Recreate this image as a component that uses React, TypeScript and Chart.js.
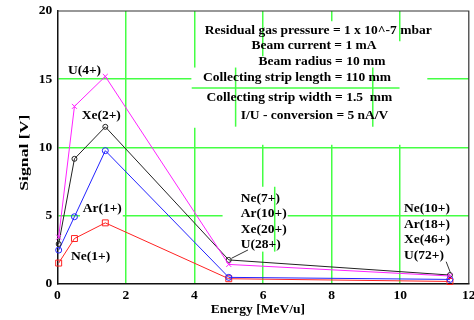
import React, { useEffect, useRef } from 'react';
import { Chart, registerables } from 'chart.js';

Chart.register(...registerables);

// ---- data ----
const energy = [0.04, 0.5, 1.4, 5.0, 11.45];
const signalU = [3.4, 13.0, 15.2, 1.4, 0.55];
const signalXe = [2.9, 9.15, 11.5, 1.73, 0.62];
const signalAr = [2.45, 4.9, 9.75, 0.45, 0.3];
const signalNe = [1.5, 3.3, 4.45, 0.35, 0.15];

const xTickValues = [0, 2, 4, 6, 8, 10, 12];
const yTickValues = [0, 5, 10, 15, 20];

const lowChargeLabels = ['U(4+)', 'Xe(2+)', 'Ar(1+)', 'Ne(1+)'];
const midChargeLabels = ['Ne(7+)', 'Ar(10+)', 'Xe(20+)', 'U(28+)'];
const highChargeLabels = ['Ne(10+)', 'Ar(18+)', 'Xe(46+)', 'U(72+)'];
const infoLines = [
  'Residual gas pressure = 1 x 10^-7 mbar',
  'Beam current = 1 mA',
  'Beam radius = 10 mm',
  'Collecting strip length = 110 mm',
  'Collecting strip width = 1.5  mm',
  'I/U - conversion = 5 nA/V',
];
const xTitle = 'Energy [MeV/u]';
const yTitle = 'Signal [V]';

// ---- styling / placement ----
const FONT = '"Liberation Serif", "Times New Roman", Times, serif';
const GREEN = '#44ff44';

const lowLabelPos = [
  [0.31, 15.6],
  [0.71, 12.3],
  [0.74, 5.53],
  [0.4, 1.97],
];
const midLabelX = 5.35;
const midLabelY = [6.26, 5.11, 3.93, 2.83];
const highLabelX = 10.11;
const highLabelY = [5.48, 4.3, 3.2, 2.04];
const infoPos = [
  [4.3, 18.59],
  [5.66, 17.49],
  [5.87, 16.26],
  [4.25, 15.09],
  [4.35, 13.62],
  [5.35, 12.34],
];
// gaps in the grid (white-out) : [x0,y0,x1,y1] in data units
const gridGaps = [
  [4, 11.43, 4, 15.85],
  [6, 10.18, 6, 16.68],
  [6, 2.34, 6, 7.1],
  [8, 10.18, 8, 19.25],
  [10, 10.18, 10, 17.78],
  [3.91, 15, 10.79, 15],
  [0.66, 5, 1.91, 5],
  [4.82, 5, 6.72, 5],
];
// displaced grid fragments visible in the original
const strayGrid = [
  [3.92, 14.35, 9.98, 14.35],
  [5.2, 11.51, 5.2, 15.85],
  [9.2, 11.51, 9.2, 15.85],
  [6.34, 2.34, 6.34, 7.1],
];
const leaders = [
  [5.56, 2.46, 5.08, 1.85],
  [11.34, 1.6, 11.47, 0.75],
];

const overlayPlugin = {
  id: 'overlay',
  beforeDatasetsDraw(chart: any) {
    const { ctx, chartArea: a, scales } = chart;
    const x = scales.x;
    const y = scales.y;
    ctx.save();
    ctx.lineCap = 'butt';
    ctx.strokeStyle = '#ffffff';
    ctx.lineWidth = 4;
    for (const g of gridGaps) {
      ctx.beginPath();
      ctx.moveTo(x.getPixelForValue(g[0]), y.getPixelForValue(g[1]));
      ctx.lineTo(x.getPixelForValue(g[2]), y.getPixelForValue(g[3]));
      ctx.stroke();
    }
    ctx.strokeStyle = GREEN;
    ctx.lineWidth = 1.5;
    for (const g of strayGrid) {
      ctx.beginPath();
      ctx.moveTo(x.getPixelForValue(g[0]), y.getPixelForValue(g[1]));
      ctx.lineTo(x.getPixelForValue(g[2]), y.getPixelForValue(g[3]));
      ctx.stroke();
    }
    ctx.strokeStyle = '#333333';
    ctx.lineWidth = 1.2;
    ctx.beginPath();
    ctx.moveTo(a.left, a.top);
    ctx.lineTo(a.right, a.top);
    ctx.lineTo(a.right, a.bottom);
    ctx.stroke();
    ctx.restore();
  },
  afterDatasetsDraw(chart: any) {
    const { ctx, chartArea: a, scales } = chart;
    const x = scales.x;
    const y = scales.y;
    ctx.save();
    ctx.fillStyle = '#000000';
    ctx.font = `bold 13.5px ${FONT}`;
    ctx.textAlign = 'left';
    ctx.textBaseline = 'middle';
    lowChargeLabels.forEach((t, i) => {
      ctx.fillText(t, x.getPixelForValue(lowLabelPos[i][0]), y.getPixelForValue(lowLabelPos[i][1]));
    });
    midChargeLabels.forEach((t, i) => {
      ctx.fillText(t, x.getPixelForValue(midLabelX), y.getPixelForValue(midLabelY[i]));
    });
    highChargeLabels.forEach((t, i) => {
      ctx.fillText(t, x.getPixelForValue(highLabelX), y.getPixelForValue(highLabelY[i]));
    });
    infoLines.forEach((t, i) => {
      ctx.fillText(t, x.getPixelForValue(infoPos[i][0]), y.getPixelForValue(infoPos[i][1]));
    });
    ctx.strokeStyle = '#333333';
    ctx.lineWidth = 1;
    for (const l of leaders) {
      ctx.beginPath();
      ctx.moveTo(x.getPixelForValue(l[0]), y.getPixelForValue(l[1]));
      ctx.lineTo(x.getPixelForValue(l[2]), y.getPixelForValue(l[3]));
      ctx.stroke();
    }
    // axis titles
    ctx.textAlign = 'center';
    ctx.fillText(xTitle, x.getPixelForValue(5.85), a.bottom + 26.5);
    ctx.save();
    ctx.translate(a.left - 32.3, y.getPixelForValue(9.6));
    ctx.rotate(-Math.PI / 2);
    const w = ctx.measureText(yTitle).width;
    ctx.scale(76 / w, 1);
    ctx.fillText(yTitle, 0, 0);
    ctx.restore();
    ctx.restore();
  },
};

function makeSet(label: string, values: number[], color: string, style: string, radius: number) {
  return {
    label,
    data: energy.map((e, i) => ({ x: e, y: values[i] })),
    borderColor: color,
    backgroundColor: color,
    borderWidth: 1,
    pointStyle: style,
    pointRadius: radius,
    pointBorderColor: color,
    pointBackgroundColor: 'rgba(0,0,0,0)',
    pointBorderWidth: 1,
    tension: 0,
    clip: false,
  };
}

export default function App() {
  const ref = useRef<HTMLCanvasElement>(null);
  useEffect(() => {
    if (!ref.current) return;
    const tickFont = { family: FONT, size: 13.5, weight: 'bold' as const };
    const chart = new Chart(ref.current, {
      type: 'line',
      data: {
        datasets: [
          makeSet('U', signalU, '#ff22ff', 'crossRot', 3.5),
          makeSet('Xe', signalXe, '#222222', 'circle', 2.5),
          makeSet('Ar', signalAr, '#2222ff', 'circle', 3),
          makeSet('Ne', signalNe, '#ff2222', 'rect', 4.2),
        ] as any,
      },
      options: {
        responsive: false,
        maintainAspectRatio: false,
        animation: false,
        devicePixelRatio: 1,
        layout: { padding: { top: 11, right: 4.5, left: 0, bottom: 0 } },
        plugins: { legend: { display: false }, tooltip: { enabled: false } },
        scales: {
          x: {
            type: 'linear',
            min: 0,
            max: 12,
            afterBuildTicks: (s: any) => {
              s.ticks = xTickValues.map((v) => ({ value: v }));
            },
            afterFit: (s: any) => {
              s.height = 36.5;
              s.paddingLeft = 0;
              s.paddingRight = 0;
            },
            grid: {
              drawTicks: false,
              lineWidth: 1.5,
              color: (c: any) =>
                c.tick && (c.tick.value === 0 || c.tick.value === 12) ? 'rgba(0,0,0,0)' : GREEN,
            },
            border: { color: '#111111', width: 1.5 },
            ticks: { font: tickFont, color: '#000000', padding: 4, maxRotation: 0, autoSkip: false },
          },
          y: {
            type: 'linear',
            min: 0,
            max: 20,
            afterBuildTicks: (s: any) => {
              s.ticks = yTickValues.map((v) => ({ value: v }));
            },
            afterFit: (s: any) => {
              s.width = 57.3;
              s.paddingTop = 0;
              s.paddingBottom = 0;
            },
            grid: {
              drawTicks: false,
              lineWidth: 1.5,
              color: (c: any) =>
                c.tick && (c.tick.value === 0 || c.tick.value === 20) ? 'rgba(0,0,0,0)' : GREEN,
            },
            border: { color: '#111111', width: 1.5 },
            ticks: { font: tickFont, color: '#000000', padding: 5 },
          },
        },
      },
      plugins: [overlayPlugin],
    });
    return () => chart.destroy();
  }, []);
  return (
    <div style={{ position: 'fixed', left: 0, top: 0, width: 474, height: 320, background: '#fff' }}>
      <canvas ref={ref} width={474} height={320} style={{ width: 474, height: 320, display: 'block' }} />
    </div>
  );
}
